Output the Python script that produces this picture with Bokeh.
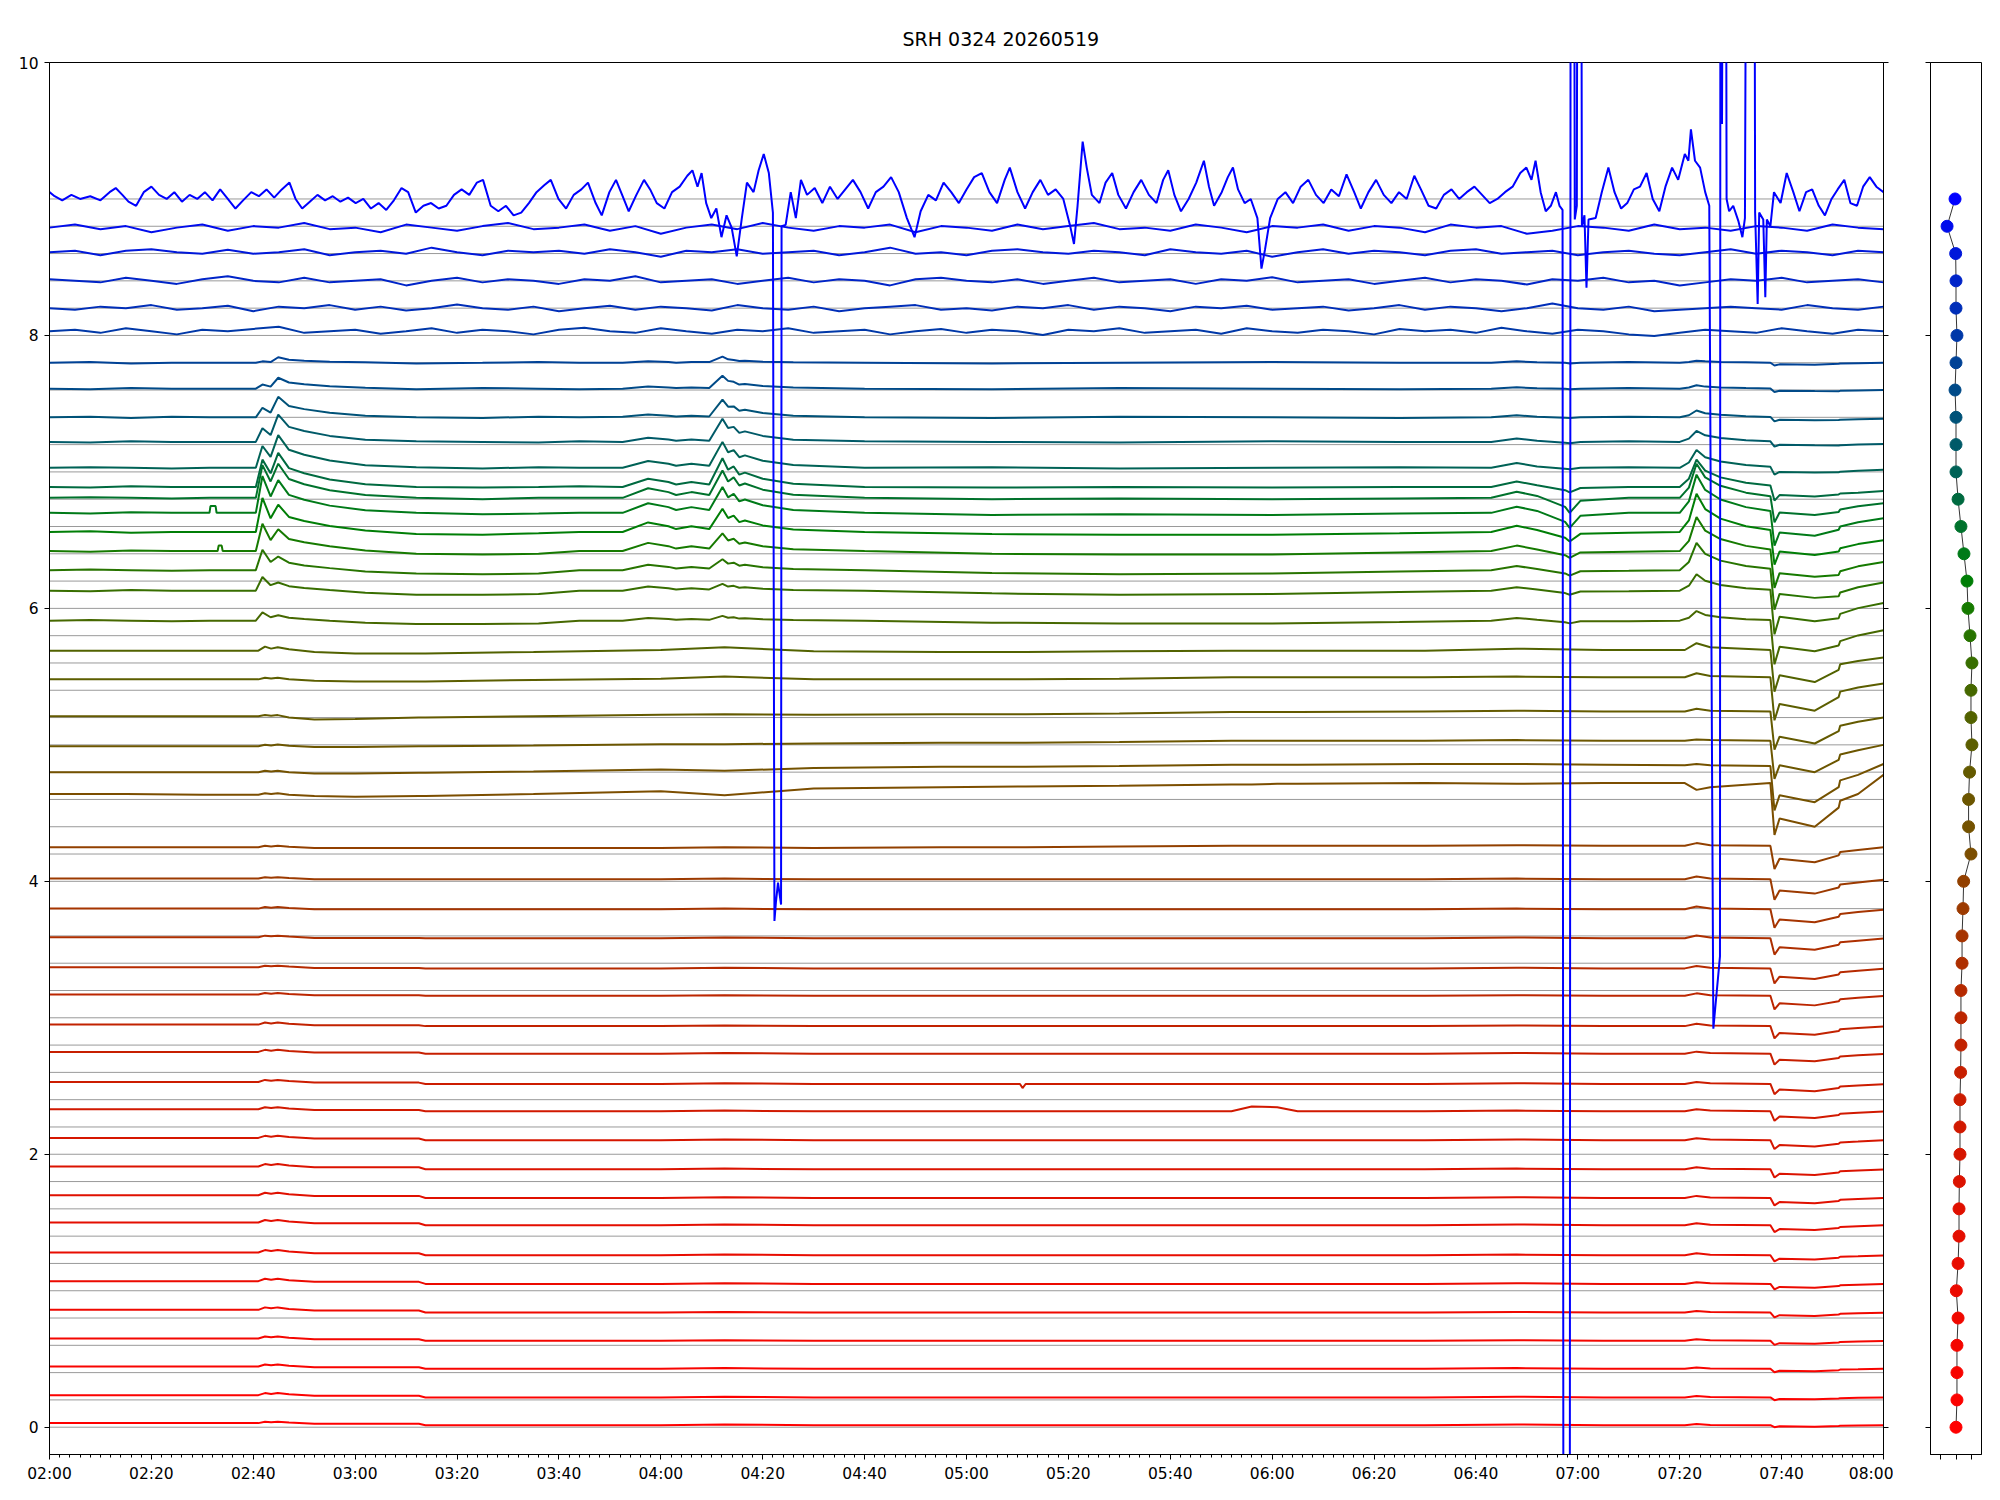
from bokeh.plotting import figure
from bokeh.models import Range1d, FixedTicker, LinearAxis
from bokeh.layouts import row
from bokeh.embed import file_html
from bokeh.resources import INLINE

TITLE = "SRH 0324 20260519"
X_TICKS = [0, 20, 40, 60, 80, 100, 120, 140, 160, 180, 200, 220, 240, 260, 280, 300, 320, 340, 360]
X_TICK_LABELS = ["02:00", "02:20", "02:40", "03:00", "03:20", "03:40", "04:00", "04:20", "04:40",
                 "05:00", "05:20", "05:40", "06:00", "06:20", "06:40", "07:00", "07:20", "07:40", "08:00"]
X_MINOR = list(range(0, 361, 2))
Y_TICKS = [0, 2, 4, 6, 8, 10]
SIDE_X_TICKS = [-1, 0, 1]

CHANNEL_STEP = 0.2
N_CH = 46

# start level of every channel trace (bottom -> top)
LEVELS = [0.03, 0.235, 0.445, 0.65, 0.86, 1.07, 1.28, 1.50, 1.70, 1.91,
          2.12, 2.33, 2.53, 2.75, 2.95, 3.17, 3.37, 3.59, 3.80, 4.02,
          4.25, 4.64, 4.80, 4.99, 5.21, 5.48, 5.69, 5.91, 6.13, 6.28,
          6.42, 6.56, 6.70, 6.81, 6.89, 7.03, 7.22, 7.40, 7.61, 7.80,
          8.03, 8.20, 8.40, 8.61, 8.79, 9.02]

COLORS = ["#ff0000", "#fc0200", "#f80400", "#f40600", "#f00800", "#ec0a00", "#e80c00", "#e40e00",
          "#e01000", "#db1300", "#d61600", "#d11900", "#cc1c00", "#c71f00", "#c22200", "#bc2600",
          "#b62a00", "#ae2f00", "#a63400", "#9c3a00", "#924000", "#7c4e00", "#745200", "#6c5600",
          "#645a00", "#5c5e00", "#526200", "#466800", "#386e00", "#287400", "#167a00", "#007e06",
          "#007a18", "#00722c", "#006a40", "#006256", "#005a68", "#005278", "#004a88", "#004296",
          "#0038a8", "#002eb8", "#0024c8", "#0018da", "#000cec", "#0000ff"]

# side panel: one value per channel
SIDE_X = [0, 0.06, 0.06, 0.06, 0.13, 0.02, 0.13, 0.19, 0.19, 0.21,
          0.25, 0.25, 0.25, 0.29, 0.31, 0.31, 0.31, 0.38, 0.38, 0.44,
          0.48, 0.94, 0.79, 0.79, 0.85, 1.0, 0.94, 0.94, 1.0, 0.88,
          0.75, 0.69, 0.5, 0.31, 0.13, 0, 0, 0, -0.06, 0,
          0.06, 0, 0, -0.02, -0.56, -0.06]

# ---- red/brown channels (0..26): minutes since 02:00, values in 1/1000 above start level
T_R = [0, 15, 30, 41, 42.3, 43.5, 44.8, 47, 52, 60,
       72.5, 73.8, 95, 120, 132.5, 150, 175, 190.5, 191, 191.6,
       210, 232, 236, 241, 245, 270, 288, 305, 321, 323.3,
       326, 337.8, 338.6, 339.6, 346.5, 351.2, 351.5, 355, 360]

R00 = [0, 0, 0, 0, 10, 6, 10, 4, -5, -5, -5, -15, -15, -15, -10, -15, -15, -15, -15, -15,
       -15, -15, -15, -15, -15, -15, -10, -15, -15, -7, -13, -15, -30, -23, -26, -21, -19, -17, -15]
R01 = [0, 0, 0, 0, 15, 9, 15, 6, -5, -5, -5, -17, -17, -17, -12, -17, -17, -17, -17, -17,
       -17, -17, -17, -17, -17, -17, -12, -17, -17, -7, -14, -17, -37, -28, -31, -25, -22, -20, -17]
R02 = [0, 0, 0, 0, 15, 9, 15, 6, -5, -5, -5, -17, -17, -17, -12, -17, -17, -17, -17, -17,
       -17, -17, -17, -17, -17, -17, -12, -17, -17, -7, -14, -17, -42, -31, -35, -27, -23, -21, -17]
R03 = [0, 0, 0, 0, 15, 9, 15, 6, -5, -5, -5, -17, -17, -17, -12, -17, -17, -17, -17, -17,
       -17, -17, -17, -17, -17, -17, -12, -17, -17, -5, -13, -17, -47, -34, -38, -29, -25, -22, -18]
R04 = [0, 0, 0, 0, 18, 11, 18, 7, -5, -5, -5, -20, -20, -20, -15, -20, -20, -20, -20, -20,
       -20, -20, -20, -20, -20, -20, -15, -20, -20, -8, -16, -20, -55, -39, -45, -34, -29, -25, -21]
R05 = [0, 0, 0, 0, 18, 11, 18, 7, -5, -5, -5, -20, -20, -20, -15, -20, -20, -20, -20, -20,
       -20, -20, -20, -20, -20, -20, -15, -20, -20, -8, -16, -20, -60, -42, -48, -36, -30, -26, -21]
R06 = [0, 0, 0, 0, 18, 11, 18, 7, -5, -5, -5, -20, -20, -20, -15, -20, -20, -20, -20, -20,
       -20, -20, -20, -20, -20, -20, -15, -20, -20, -5, -16, -20, -65, -45, -52, -38, -31, -27, -21]
R07 = [0, 0, 0, 0, 18, 11, 18, 7, -5, -5, -5, -20, -20, -20, -15, -20, -20, -20, -20, -20,
       -20, -20, -20, -20, -20, -20, -15, -20, -20, -5, -16, -20, -70, -48, -55, -40, -33, -28, -21]
R08 = [0, 0, 0, 0, 18, 11, 18, 7, -5, -5, -5, -20, -20, -20, -15, -20, -20, -20, -20, -20,
       -20, -20, -20, -20, -20, -20, -15, -20, -20, -5, -16, -20, -75, -50, -59, -42, -34, -28, -21]
R09 = [0, 0, 0, 0, 18, 11, 18, 7, -5, -5, -5, -20, -20, -20, -15, -20, -20, -20, -20, -20,
       -20, -20, -20, -20, -20, -20, -15, -20, -20, -5, -16, -20, -80, -53, -62, -44, -35, -29, -21]
R10 = [0, 0, 0, 0, 15, 9, 15, 6, -5, -5, -5, -17, -17, -17, -12, -17, -17, -17, -17, -17,
       -17, -17, -17, -17, -17, -17, -12, -17, -17, -2, -12, -17, -82, -53, -63, -43, -33, -27, -18]
R11 = [0, 0, 0, 0, 15, 9, 15, 6, -5, -5, -5, -15, -15, -15, -10, -15, -15, -15, -15, -15,
       -15, -15, 20, 15, -15, -15, -10, -15, -15, 0, -10, -15, -85, -54, -64, -43, -33, -26, -16]
R12 = [0, 0, 0, 0, 15, 9, 15, 6, -5, -5, -5, -15, -15, -15, -10, -15, -15, -15, -45, -15,
       -15, -15, -15, -15, -15, -15, -10, -15, -15, 0, -10, -15, -90, -56, -68, -45, -34, -26, -17]
R13 = [0, 0, 0, 0, 15, 9, 15, 6, -5, -5, -5, -13, -13, -13, -8, -13, -13, -13, -13, -13,
       -13, -13, -13, -13, -13, -13, -8, -13, -13, 2, -8, -13, -93, -57, -69, -45, -33, -25, -15]
R14 = [0, 0, 0, 0, 15, 9, 15, 6, -5, -5, -5, -11, -11, -11, -6, -11, -11, -11, -11, -11,
       -11, -11, -11, -11, -11, -11, -6, -11, -11, 7, -6, -11, -101, -61, -74, -47, -34, -25, -13]
R15 = [0, 0, 0, 0, 12, 7, 12, 5, -5, -5, -5, -9, -9, -9, -4, -9, -9, -9, -9, -9,
       -9, -9, -9, -9, -9, -9, -4, -9, -9, 9, -4, -9, -109, -64, -79, -49, -34, -24, -11]
R16 = [0, 0, 0, 0, 12, 7, 12, 5, -5, -5, -5, -8, -8, -8, -3, -8, -8, -8, -8, -8,
       -8, -8, -8, -8, -8, -8, -3, -8, -8, 10, -3, -8, -118, -69, -85, -52, -36, -25, -10]
R17 = [0, 0, 0, 0, 12, 7, 12, 5, -5, -5, -5, -7, -7, -7, -2, -7, -7, -7, -7, -7,
       -7, -7, -7, -7, -7, -7, -2, -7, -7, 13, -1, -7, -127, -73, -91, -55, -37, -25, -9]
R18 = [0, 0, 0, 0, 12, 7, 12, 5, -5, -5, -5, -5, -5, -5, 0, -5, -5, -5, -5, -5,
       -5, -5, -5, -5, -5, -5, 0, -5, -5, 15, 1, -5, -140, -79, -100, -59, -39, -25, -8]
R19 = [0, 0, 0, 0, 10, 6, 10, 4, -5, -5, -5, -5, -5, -5, 0, -5, -5, -5, -5, -5,
       -5, -5, -5, -5, -5, -5, 0, -5, -5, 15, 1, -5, -155, -88, -110, -65, -43, -28, -8]
R20 = [0, 0, 0, 0, 10, 6, 10, 4, -5, -5, -5, -5, -5, -5, 0, -5, 0, 0, 0, 0,
       5, 10, 10, 10, 10, 10, 15, 10, 10, 30, 15, 10, -160, -85, -110, -60, -35, -20, 0]
R21 = [0, 0, -5, -5, 5, 0, 5, -5, -15, -20, -15, -15, 0, 20, -10, 40, 50, 55, 55, 55,
       60, 70, 70, 75, 75, 80, 75, 80, 80, 30, 50, 80, -300, -180, -240, -100, -50, 0, 140]
R22 = [0, 0, 0, 0, 10, 5, 10, 0, -10, -10, -5, -5, 5, 20, 10, 30, 40, 40, 40, 40,
       45, 55, 55, 55, 55, 60, 60, 55, 50, 60, 50, 45, -280, -170, -220, -110, -60, -20, 60]
R23 = [0, 0, 0, 0, 10, 5, 12, 3, -5, -5, 0, 0, 5, 15, 15, 20, 25, 25, 25, 25,
       30, 40, 40, 40, 40, 40, 45, 40, 40, 50, 45, 40, -240, -140, -190, -100, -60, -30, 10]
R24 = [0, 0, 0, 0, 8, 4, 8, -10, -25, -20, -10, -10, 0, 10, 15, 10, 15, 15, 15, 15,
       20, 30, 30, 30, 30, 35, 40, 35, 35, 55, 40, 35, -245, -150, -200, -110, -70, -40, -10]
R25 = [0, 0, 0, 0, 12, 6, 12, 0, -10, -15, -15, -15, -5, 5, 20, 0, 0, 0, 0, 0,
       5, 15, 15, 15, 15, 15, 20, 15, 15, 45, 25, 15, -300, -180, -230, -130, -90, -60, -30]
R26 = [0, 0, 0, 0, 30, 15, 25, 10, -10, -20, -20, -20, -10, 5, 25, -5, -10, -10, -10, -10,
       -5, 0, 0, 0, 0, 0, 15, 5, 5, 55, 25, 5, -300, -180, -230, -140, -100, -75, -50]

# ---- green channels (27..39)
T_G = [0, 8, 16, 24, 31.4, 31.6, 32.6, 32.8, 33.0, 33.2, 33.8, 34.0,
       40.5, 41.8, 43.4, 44.9, 47, 50, 55, 62, 72, 85, 96, 104,
       112.5, 117.5, 121.5, 123, 126, 129.5, 132.1, 133.2, 134.3, 135.4, 136.5, 140, 146,
       160, 185, 210, 240, 265, 283, 288, 292, 297.5, 298.4, 300.5, 310, 320,
       321.8, 323.3, 325, 328, 333, 337.8, 338.6, 339.6, 346.5, 351.2, 351.5, 355, 360]

G27 = [0, 5, 0, -5, 0, 0, 0, 0, 0, 0, 0, 0,
       0, 60, 25, 40, 22, 12, 0, -15, -25, -25, -20, 0,
       0, 20, 12, 6, 12, 6, 35, 21, 25, 15, 18, 10, 4,
       0, -15, -20, -20, -10, 0, 20, 6, -12, -20, -4, -5, 0,
       21, 70, 42, 25, 10, 4, -320, -192, -224, -182, -150, -108, -70]
G28 = [0, -5, 5, 0, 0, 0, 0, 0, 0, 0, 0, 0,
       0, 100, 40, 60, 33, 20, 5, -15, -30, -30, -25, 0,
       0, 30, 18, 9, 18, 9, 50, 30, 35, 21, 25, 14, 5,
       0, -20, -30, -25, -10, 0, 25, 8, -18, -30, -6, -5, 0,
       36, 120, 72, 42, 18, 6, -320, -192, -224, -202, -170, -128, -90]
G29 = [0, 5, 0, -5, 0, 0, 0, 0, 0, 0, 0, 0,
       0, 150, 60, 100, 55, 35, 15, -10, -25, -30, -25, 0,
       0, 40, 24, 12, 24, 12, 80, 48, 55, 33, 39, 22, 8,
       0, -20, -30, -25, -10, 0, 30, 9, -24, -40, -8, -5, 0,
       60, 200, 120, 70, 30, 10, -290, -174, -203, -192, -163, -125, -90]
G30 = [0, -5, 5, 0, 0, 0, 0, 0, 0, 40, 40, 0,
       0, 200, 80, 160, 88, 64, 35, 5, -20, -25, -20, 0,
       0, 60, 36, 18, 36, 18, 130, 78, 90, 54, 63, 36, 14,
       0, -20, -25, -25, -10, 0, 40, 12, -30, -50, -10, -5, 0,
       75, 250, 150, 88, 38, 12, -270, -162, -189, -175, -148, -112, -80]
G31 = [0, 5, -5, 0, 0, 0, 0, 0, 0, 0, 0, 0,
       0, 250, 100, 200, 110, 80, 44, 10, -15, -20, -10, 0,
       0, 70, 42, 21, 42, 21, 170, 102, 120, 72, 84, 48, 18,
       0, -15, -20, -20, -10, 0, 45, 14, -42, -70, -14, -5, 0,
       84, 280, 168, 98, 42, 14, -240, -144, -168, -144, -120, -89, -60]
G32 = [0, -5, 5, 0, 0, 50, 50, 0, 0, 0, 0, 0,
       0, 270, 120, 240, 132, 96, 53, 19, 0, -10, -5, 0,
       0, 70, 42, 21, 42, 21, 190, 114, 140, 84, 98, 56, 21,
       0, -15, -10, -15, -5, 0, 45, 14, -66, -110, -22, 0, 0,
       84, 280, 168, 98, 42, 14, -240, -144, -168, -124, -100, -69, -40]
G33 = [0, 5, 0, -5, 0, 0, 0, 0, 0, 0, 0, 0,
       0, 240, 120, 250, 138, 100, 55, 20, 0, -10, 0, 0,
       0, 70, 42, 21, 42, 21, 200, 120, 150, 90, 105, 60, 23,
       0, -10, -5, -10, -5, 0, 45, 14, -66, -110, -22, 0, 0,
       75, 250, 150, 88, 38, 12, -180, -108, -126, -103, -85, -62, -40]
G34 = [0, -5, 5, 0, 0, 0, 0, 0, 0, 0, 0, 0,
       0, 200, 100, 250, 138, 100, 55, 20, 0, -5, 0, 5,
       0, 60, 36, 18, 36, 18, 210, 126, 150, 90, 105, 60, 23,
       0, -5, 0, -5, 0, 0, 40, 12, -24, -40, -8, 0, 0,
       60, 200, 120, 70, 30, 10, -100, -60, -70, -55, -48, -42, -30]
G35 = [0, 5, 0, -5, 0, 0, 0, 0, 0, 0, 0, 0,
       0, 160, 80, 240, 132, 96, 53, 19, 5, -5, 5, 0,
       0, 50, 30, 15, 30, 15, 190, 114, 130, 78, 91, 52, 20,
       0, 5, -5, 0, 5, 0, 35, 10, -6, -10, 0, 5, 0,
       39, 130, 78, 46, 20, 7, -50, -30, -35, -33, -28, -21, -15]
G36 = [0, -5, 5, 0, 0, 0, 0, 0, 0, 0, 0, 0,
       0, 100, 50, 200, 110, 80, 44, 16, 5, 0, -5, 5,
       0, 30, 18, 9, 18, 9, 170, 102, 110, 66, 77, 44, 16,
       5, 0, -5, 5, 0, 0, 25, 8, -6, -10, 0, 5, 0,
       24, 80, 48, 28, 12, 4, -35, -21, -25, -27, -24, -19, -15]
G37 = [0, 5, -5, 5, 0, 0, 0, 0, 0, 0, 0, 0,
       0, 70, 35, 150, 83, 60, 33, 12, 0, -5, 5, 0,
       5, 20, 12, 6, 12, 6, 130, 78, 80, 48, 56, 32, 12,
       0, -5, 5, 0, -5, 0, 15, 5, -3, -5, 0, 5, 0,
       15, 50, 30, 18, 8, 3, -30, -18, -21, -20, -18, -14, -10]
G38 = [0, -5, 5, 0, 0, 0, 0, 0, 0, 0, 0, 0,
       0, 30, 15, 80, 45, 32, 18, 6, -5, 5, 0, -5,
       0, 15, 9, 5, 9, 5, 95, 57, 50, 30, 35, 20, 8,
       0, -5, 5, 0, -5, 0, 10, 3, 0, -5, 0, 5, 0,
       8, 25, 15, 9, 4, 1, -25, -15, -18, -19, -16, -13, -10]
G39 = [0, 5, -5, 0, 0, 0, 0, 0, 0, 0, 0, 0,
       0, 10, 5, 40, 22, 15, 8, 3, -5, 0, 5, 0,
       0, 10, 5, 0, 5, 5, 45, 25, 20, 12, 14, 8, 3,
       0, -5, 0, 5, 0, 0, 10, 3, 0, -5, 0, 5, 0,
       5, 15, 10, 5, 3, 0, -20, -12, -14, -7, -5, -3, 0]

# ---- blue channels (40..44), sampled every 5 minutes, values in 1/450 above start level
T_B = list(range(0, 361, 5))
B40 = [0, 5, -5, 10, 0, -10, 5, 0, 8, 15, -5, 0, 5, -8, 0, 10, -5, 5, 0, -10,
       5, 12, 0, -5, 10, 0, -8, 5, 0, 10, -5, 0, 5, -10, 0, 8, -5, 5, 0, -12,
       5, 0, 10, -5, 0, 5, -8, 10, 0, -5, 5, 0, -10, 8, 0, 5, -5, 12, 0, -8,
       5, 0, -10, -15, -5, 5, 0, -5, 10, 0, -8, 5, 0]
B41 = [0, -5, 5, 0, 10, -5, 0, 8, -10, 5, 0, 10, -5, 5, -8, 0, 12, 0, -5, 5,
       -10, 0, 8, -5, 5, 0, -8, 10, 0, -5, 5, -10, 0, 5, 10, -5, 0, -8, 5, 0,
       10, -5, 5, 0, -10, 5, 0, 8, -5, 0, 5, -8, 0, 10, -5, 5, 0, -10, 0, 15,
       0, -5, 5, -10, -5, 0, 5, 0, -5, 10, 0, -5, 5]
B42 = [5, 0, -5, 10, 0, -10, 5, 15, 0, -5, 10, -5, 0, 5, -15, 0, 10, -5, 5, 0,
       -10, 5, 0, 15, -5, 0, 5, -10, 0, 10, -5, 5, 0, -15, 5, 10, 0, -5, 5, -10,
       0, 10, -5, 0, 5, -10, 5, 0, 12, -5, 0, 5, -10, 0, 10, -5, 5, 0, -12, 5,
       0, 10, -5, 0, -15, -5, 5, 0, 10, -5, 0, 5, -5]
B43 = [0, 5, -10, 5, 10, 0, -5, 8, -5, 0, 10, -10, 0, 5, -5, 15, 0, -10, 5, 0,
       5, -5, 10, 0, -15, 5, 0, 10, -5, 0, 5, -10, 0, 15, -5, 0, -10, 5, 10, 0,
       -5, 5, 0, -10, 10, 0, -5, 5, -15, 0, 10, -5, 5, 0, -10, 5, 10, -5, 0, 5,
       -10, 0, 5, -5, -10, 0, 10, -5, 5, 0, -10, 5, 0]
B44 = [0, 10, -5, 5, -15, 0, 10, -10, 5, 0, 15, -5, 0, -15, 10, 0, -10, 5, 15, -5,
       0, 10, -10, 5, -20, 0, 10, -5, 15, 0, -10, 5, 0, 10, -15, 5, 0, -10, 10, -5,
       5, 15, -5, 0, -10, 10, 0, -15, 5, 0, 10, -10, 5, 0, -15, 10, 0, 5, -20, -10,
       5, 0, -10, 10, -5, 0, -10, 5, 0, -10, 10, 0, -5]

# ---- top channel (45): (minutes since 02:00, value)
TOP_POINTS = [
    (0, 9.05), (1, 9.02), (2.5, 8.99), (4.3, 9.03), (6, 9.00), (8, 9.02), (10, 8.99), (11.8, 9.05),
    (13, 9.08), (14.3, 9.03), (15.5, 8.98), (17, 8.95), (18.5, 9.05), (20, 9.09), (21.5, 9.03),
    (23, 9.00), (24.5, 9.05), (26, 8.98), (27.5, 9.03), (29, 9.00), (30.5, 9.05), (32, 8.99),
    (33.5, 9.07), (35, 9.00), (36.5, 8.93), (38, 8.99), (39.6, 9.05), (41.1, 9.02), (42.6, 9.07),
    (44.1, 9.01), (45.6, 9.07), (47.1, 9.12), (48.3, 9.00), (49.6, 8.93), (51.1, 8.98), (52.6, 9.03),
    (54.1, 8.99), (55.6, 9.02), (57.1, 8.98), (58.6, 9.01), (60.1, 8.97), (61.6, 9.00), (63.1, 8.93),
    (64.6, 8.97), (66.1, 8.92), (67.6, 8.99), (69.1, 9.08), (70.4, 9.05), (71.9, 8.90), (73.4, 8.95),
    (74.9, 8.97), (76.4, 8.93), (77.9, 8.95), (79.4, 9.03), (80.9, 9.07), (82.4, 9.03), (83.9, 9.12),
    (85.1, 9.14), (86.6, 8.95), (88.1, 8.91), (89.6, 8.95), (91.1, 8.88), (92.6, 8.90), (94.1, 8.97),
    (95.6, 9.05), (97.1, 9.10), (98.4, 9.14), (99.9, 9.00), (101.4, 8.93), (102.9, 9.03), (104.4, 9.07),
    (105.7, 9.12), (107.2, 8.97), (108.4, 8.88), (109.9, 9.05), (111.2, 9.14), (112.4, 9.03),
    (113.7, 8.91), (115.2, 9.03), (116.7, 9.14), (117.9, 9.07), (119.2, 8.97), (120.7, 8.93),
    (122.2, 9.05), (123.7, 9.09), (125.2, 9.17), (126.2, 9.21), (127.2, 9.09), (128, 9.19),
    (128.9, 8.97), (129.9, 8.86), (130.9, 8.93), (131.9, 8.72), (132.9, 8.88), (133.9, 8.79),
    (134.9, 8.58), (135.9, 8.86), (136.9, 9.12), (138.2, 9.05), (139.2, 9.21), (140.2, 9.33),
    (141.2, 9.19), (142.0, 8.90), (142.3, 3.71), (142.6, 3.85), (143.0, 3.99), (143.6, 3.83),
    (143.7, 8.80), (144.5, 8.81), (145.5, 9.05), (146.5, 8.86), (147.5, 9.14), (148.7, 9.03),
    (150.2, 9.08), (151.7, 8.97), (153.2, 9.09), (154.7, 9.00), (156.2, 9.07), (157.7, 9.14),
    (159.2, 9.05), (160.7, 8.93), (162.2, 9.05), (163.7, 9.09), (165.2, 9.16), (166.7, 9.05),
    (168.3, 8.86), (169.8, 8.72), (171, 8.91), (172.5, 9.03), (174, 8.99), (175.5, 9.12), (177, 9.05),
    (178.5, 8.97), (180, 9.07), (181.5, 9.16), (183, 9.19), (184.5, 9.05), (186, 8.97), (187.5, 9.14),
    (188.5, 9.23), (190, 9.05), (191.5, 8.93), (193, 9.05), (194.5, 9.14), (196, 9.03), (197.5, 9.07),
    (199, 9.00), (200.3, 8.81), (201.1, 8.67), (201.8, 8.95), (202.8, 9.42), (203.6, 9.23),
    (204.6, 9.03), (206.1, 8.97), (207.3, 9.12), (208.6, 9.19), (209.8, 9.03), (211.3, 8.93),
    (212.8, 9.05), (214.3, 9.14), (215.8, 9.03), (217.3, 8.97), (218.6, 9.14), (219.6, 9.21),
    (220.8, 9.03), (222.1, 8.91), (223.6, 9.00), (225.1, 9.12), (226.6, 9.28), (227.6, 9.09),
    (228.6, 8.95), (230.1, 9.05), (231.3, 9.16), (232.3, 9.23), (233.3, 9.07), (234.6, 8.97),
    (235.8, 9.00), (237.1, 8.86), (237.9, 8.49), (238.6, 8.63), (239.6, 8.86), (241.1, 9.00),
    (242.6, 9.05), (244.1, 8.97), (245.6, 9.09), (247.1, 9.14), (248.6, 9.03), (250.1, 8.97),
    (251.6, 9.07), (253.1, 9.02), (254.6, 9.18), (256.1, 9.05), (257.4, 8.93), (258.9, 9.05),
    (260.4, 9.14), (261.9, 9.03), (263.4, 8.97), (264.9, 9.05), (266.4, 9.00), (267.9, 9.17),
    (269.2, 9.07), (270.7, 8.95), (272.2, 8.93), (273.7, 9.03), (275.2, 9.07), (276.7, 9.00),
    (278.2, 9.05), (279.7, 9.09), (281.2, 9.03), (282.7, 8.97), (284.2, 9.00), (285.7, 9.05),
    (287.2, 9.09), (288.7, 9.19), (289.9, 9.23), (290.9, 9.14), (291.7, 9.28), (292.7, 9.05),
    (293.7, 8.91), (294.7, 8.95), (295.7, 9.05), (296.4, 8.95), (297.0, 8.92), (297.2, -3.0),
    (298.4, -3.0), (298.6, 13.0), (299.2, 13.0), (299.4, 8.85), (299.8, 8.95), (300.0, 13.0),
    (300.6, 13.0), (300.8, 8.80), (301.3, 8.88), (301.7, 8.35), (302.1, 8.85), (303.5, 8.86),
    (304.7, 9.05), (306, 9.23), (307.2, 9.05), (308.5, 8.93), (309.7, 8.97), (311, 9.07),
    (312.2, 9.09), (313.5, 9.19), (314.7, 9.00), (316, 8.91), (317.2, 9.09), (318.5, 9.23),
    (319.7, 9.14), (321, 9.33), (321.7, 9.28), (322.2, 9.51), (323, 9.28), (324, 9.23), (325, 9.05),
    (325.8, 8.95), (326.6, 2.92), (327.9, 3.45), (328.0, 13.0), (328.3, 9.55), (328.6, 13.0),
    (329.0, 13.0), (329.2, 9.00), (329.7, 8.91), (330.5, 8.95), (331.5, 8.84), (332.3, 8.72),
    (332.8, 8.86), (333.2, 13.0), (334.6, 13.0), (334.8, 8.90), (335.3, 8.23), (335.6, 8.90),
    (336.4, 8.85), (336.8, 8.28), (337.1, 8.85), (337.8, 8.80), (338.5, 9.05), (339.8, 8.97),
    (341, 9.19), (342.3, 9.05), (343.5, 8.91), (344.8, 9.05), (346, 9.07), (347.3, 8.95),
    (348.5, 8.88), (349.8, 9.00), (351, 9.07), (352.3, 9.14), (353.5, 8.97), (354.8, 8.95),
    (356, 9.09), (357.3, 9.16), (358.6, 9.09), (360, 9.05)]

RED_REL = [R00, R01, R02, R03, R04, R05, R06, R07, R08, R09, R10, R11, R12, R13,
           R14, R15, R16, R17, R18, R19, R20, R21, R22, R23, R24, R25, R26]
GREEN_REL = [G27, G28, G29, G30, G31, G32, G33, G34, G35, G36, G37, G38, G39]
BLUE_REL = [B40, B41, B42, B43, B44]
REL_UNIT = 1 / 1000
BLUE_UNIT = 1 / 450

FONT = "DejaVu Sans"


def style_axis(ax, tick_out=5, minor_out=3, standoff=5):
    ax.axis_line_color = "black"
    ax.axis_line_width = 1
    ax.major_tick_line_color = "black"
    ax.minor_tick_line_color = "black"
    ax.major_tick_in = 0
    ax.major_tick_out = tick_out
    ax.minor_tick_in = 0
    ax.minor_tick_out = minor_out
    ax.major_label_standoff = standoff
    ax.major_label_text_font = FONT
    ax.major_label_text_font_size = "15.5px"
    ax.major_label_text_color = "black"


p = figure(x_range=Range1d(0, 360), y_range=Range1d(-0.2, 10),
           frame_width=1834, frame_height=1392,
           min_border_left=49, min_border_right=10, min_border_top=62, min_border_bottom=38,
           output_backend="svg", toolbar_location=None)
p.background_fill_color = "white"
p.border_fill_color = "white"
p.grid.visible = False
p.outline_line_color = "black"
p.outline_line_width = 1
p.outline_line_alpha = 1.0

p.title.text = TITLE
p.title.align = "left"
p.title.offset = 853
p.title.text_font = FONT
p.title.text_font_size = "19px"
p.title.text_font_style = "normal"
p.title.text_color = "black"
p.title.standoff = 25

p.xaxis.ticker = FixedTicker(ticks=X_TICKS, minor_ticks=X_MINOR)
p.xaxis.major_label_overrides = {t: lab for t, lab in zip(X_TICKS, X_TICK_LABELS)}
style_axis(p.xaxis[0], standoff=5)
p.yaxis.ticker = FixedTicker(ticks=Y_TICKS, minor_ticks=[])
style_axis(p.yaxis[0], standoff=6)

ax_r = LinearAxis(ticker=FixedTicker(ticks=Y_TICKS, minor_ticks=[]),
                  major_label_overrides={t: "" for t in Y_TICKS})
style_axis(ax_r, standoff=0)
p.add_layout(ax_r, "right")

# channel baselines
base_y = [j * CHANNEL_STEP for j in range(N_CH)]
p.multi_line(xs=[[0, 360] for _ in base_y], ys=[[b, b] for b in base_y],
             line_color="#9a9a9a", line_width=1)

for k, rel in enumerate(RED_REL):
    j = k
    assert len(rel) == len(T_R), (j, len(rel))
    p.line(T_R, [LEVELS[j] + v * REL_UNIT for v in rel], line_color=COLORS[j], line_width=2)

for k, rel in enumerate(GREEN_REL):
    j = 27 + k
    assert len(rel) == len(T_G), (j, len(rel))
    p.line(T_G, [LEVELS[j] + v * REL_UNIT for v in rel], line_color=COLORS[j], line_width=2)

for k, rel in enumerate(BLUE_REL):
    j = 40 + k
    assert len(rel) == len(T_B), (j, len(rel))
    p.line(T_B, [LEVELS[j] + v * BLUE_UNIT for v in rel], line_color=COLORS[j], line_width=2)

p.line([t for t, _ in TOP_POINTS], [v for _, v in TOP_POINTS], line_color=COLORS[45], line_width=2)

# side panel
p2 = figure(x_range=Range1d(-1.6, 1.6), y_range=Range1d(-0.2, 10),
            frame_width=51, frame_height=1392,
            min_border_left=37, min_border_right=5, min_border_top=62, min_border_bottom=38,
            output_backend="svg", toolbar_location=None)
p2.background_fill_color = "white"
p2.border_fill_color = "white"
p2.grid.visible = False
p2.outline_line_color = "black"
p2.outline_line_width = 1
p2.xaxis.ticker = FixedTicker(ticks=SIDE_X_TICKS, minor_ticks=[])
p2.xaxis.major_label_overrides = {t: "" for t in SIDE_X_TICKS}
style_axis(p2.xaxis[0], standoff=0)
p2.yaxis.ticker = FixedTicker(ticks=Y_TICKS, minor_ticks=[])
p2.yaxis.major_label_overrides = {t: "" for t in Y_TICKS}
style_axis(p2.yaxis[0], standoff=0)

p2.line(SIDE_X, base_y, line_color="black", line_width=1, line_alpha=0.8)
p2.scatter(SIDE_X, base_y, size=12, fill_color=COLORS, line_color=COLORS, marker="circle")

layout = row(p, p2)
open("out.html", "w").write(file_html(layout, INLINE))
